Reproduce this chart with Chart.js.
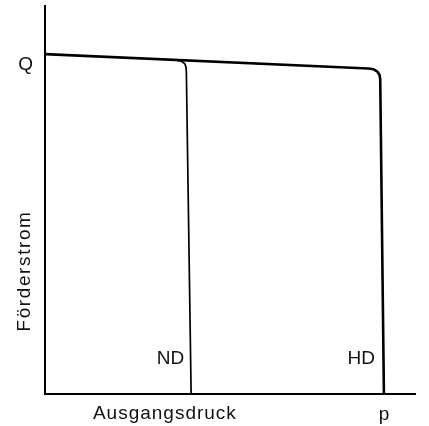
<!DOCTYPE html>
<html>
<head>
<meta charset="utf-8">
<script src="https://cdn.jsdelivr.net/npm/chart.js@4"></script>
<style>
    html, body { margin: 0; padding: 0; background: #fff; }
    #wrap { width: 429px; height: 426px; }
</style>
</head>
<body>
<div id="wrap"><canvas id="kennlinie"></canvas></div>
<script>
// Kennlinie Förderstrom über Ausgangsdruck (schematic, units 0..100)
const hdX = [0, 87.4, 88.8, 89.8, 90.4, 90.6, 91.6];
const hdY = [87.6, 83.9, 83.7, 83.1, 82.3, 81.2, 0];
const ndX = [34.0, 35.9, 37.0, 37.8, 38.1, 38.2, 39.5];
const ndY = [86.2, 86.0, 85.7, 85.1, 84.3, 83.2, 0];

const qTick = 84.8;    // Förderstrom Q (label sits just below the curve start)
const pTick = 91.6;    // Druck p
const labels = [
    { text: 'ND', x: 37.6, y: 7.7 },
    { text: 'HD', x: 89.2, y: 7.7 },
];

const toPoints = (xs, ys) => xs.map((x, i) => ({ x: x, y: ys[i] }));

const FONT = '"Liberation Sans", Arial, Helvetica, sans-serif';

// Draws ND/HD and the axis titles
const textPlugin = {
    id: 'textPlugin',
    afterDraw(chart) {
        const ctx = chart.ctx;
        const xs = chart.scales.x;
        const ys = chart.scales.y;
        const area = chart.chartArea;
        ctx.save();
        ctx.fillStyle = '#111';
        ctx.font = '19px ' + FONT;
        ctx.textBaseline = 'alphabetic';
        ctx.textAlign = 'right';
        labels.forEach(l => {
            ctx.fillText(l.text, xs.getPixelForValue(l.x), ys.getPixelForValue(l.y));
        });

        ctx.textAlign = 'center';
        ctx.letterSpacing = '1px';
        ctx.fillText('Ausgangsdruck', area.left + 0.324 * (area.right - area.left), area.bottom + 25);

        ctx.letterSpacing = '1.6px';
        ctx.translate(area.left - 15, area.bottom - 0.317 * (area.bottom - area.top));
        ctx.rotate(-Math.PI / 2);
        ctx.fillText('Förderstrom', 0, 0);
        ctx.restore();
    }
};

new Chart(document.getElementById('kennlinie'), {
    type: 'scatter',
    data: {
        datasets: [
            {
                label: 'HD',
                data: toPoints(hdX, hdY),
                showLine: true,
                borderColor: '#000',
                borderWidth: 2.6,
                pointRadius: 0,
                borderJoinStyle: 'round',
                borderCapStyle: 'butt',
            },
            {
                label: 'ND',
                data: toPoints(ndX, ndY),
                showLine: true,
                borderColor: '#000',
                borderWidth: 1.7,
                pointRadius: 0,
                borderJoinStyle: 'round',
            },
        ],
    },
    options: {
        responsive: true,
        maintainAspectRatio: false,
        animation: false,
        events: [],
        layout: { padding: { top: 6, right: 14, left: 0, bottom: 0 } },
        plugins: {
            legend: { display: false },
            tooltip: { enabled: false },
        },
        scales: {
            x: {
                type: 'linear',
                min: 0,
                max: 100,
                grid: { display: false },
                border: { display: true, color: '#000', width: 2 },
                afterFit: s => {
                    s.height = 32;
                    s.paddingLeft = 0;
                    s.paddingRight = 0;
                },
                afterBuildTicks: s => { s.ticks = [{ value: pTick }]; },
                ticks: {
                    callback: () => 'p',
                    color: '#111',
                    font: { size: 19, family: FONT },
                    padding: 1,
                    maxRotation: 0,
                },
            },
            y: {
                type: 'linear',
                min: 0,
                max: 100,
                grid: { display: false },
                border: { display: true, color: '#000', width: 2 },
                afterFit: s => {
                    s.width = 45;
                    s.paddingTop = 0;
                    s.paddingBottom = 0;
                },
                afterBuildTicks: s => { s.ticks = [{ value: qTick }]; },
                ticks: {
                    callback: () => 'Q',
                    color: '#111',
                    font: { size: 19, family: FONT },
                    padding: 4,
                },
            },
        },
    },
    plugins: [textPlugin],
});
</script>
</body>
</html>
